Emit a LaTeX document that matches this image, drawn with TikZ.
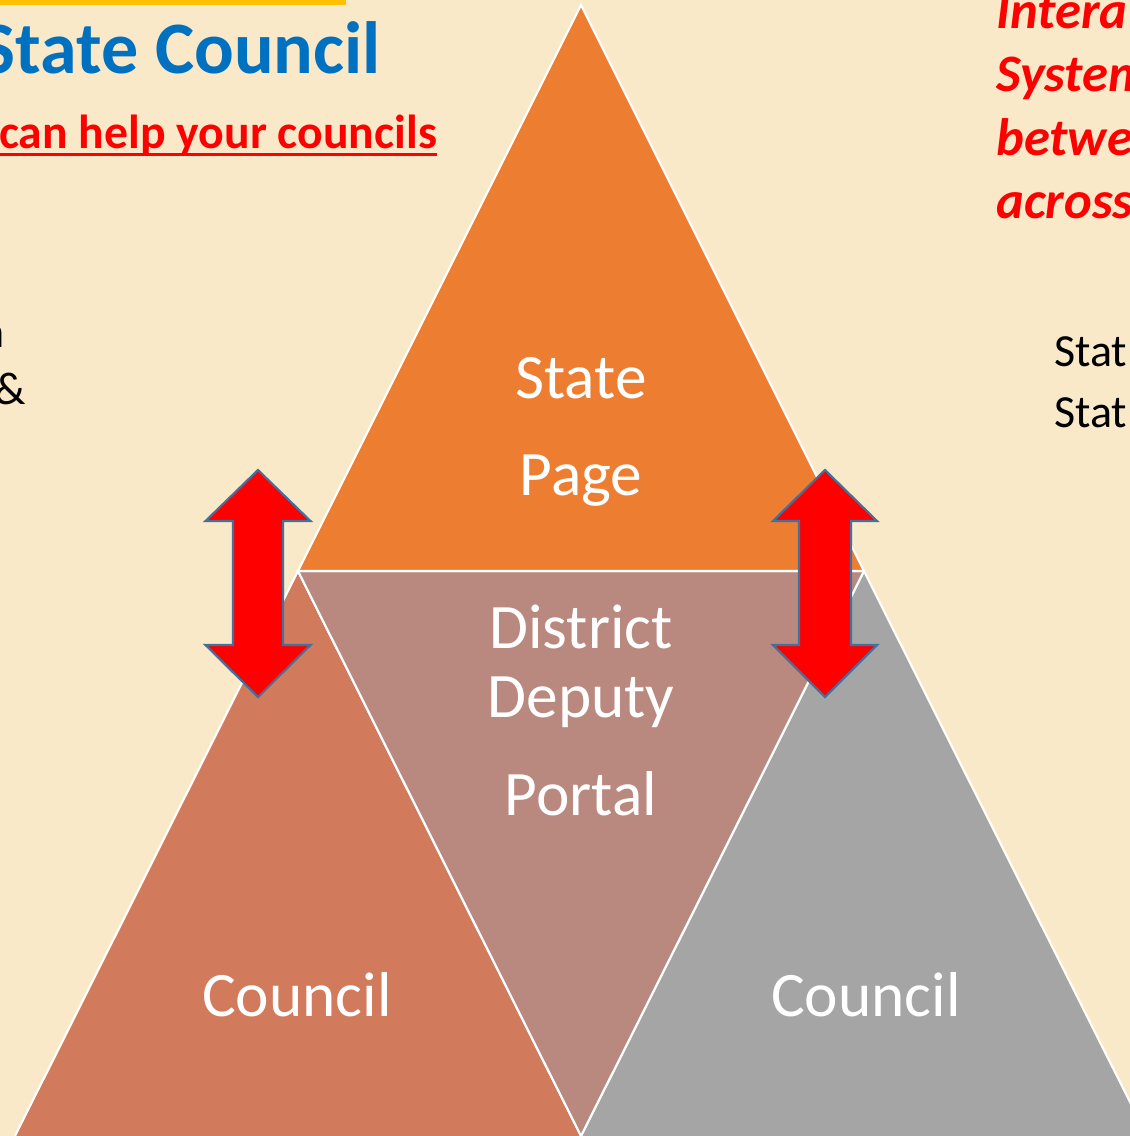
\documentclass[tikz,border=0pt]{standalone}
\usepackage{fontspec}
\setmainfont{Carlito}
\usetikzlibrary{calc}
\definecolor{bgc}{HTML}{F9E9C8}
\definecolor{barc}{HTML}{FFC000}
\definecolor{titleblue}{HTML}{0070C0}
\definecolor{topc}{HTML}{ED7D31}
\definecolor{leftc}{HTML}{D17A5C}
\definecolor{midc}{HTML}{B98980}
\definecolor{rightc}{HTML}{A5A5A5}
\definecolor{arrowedge}{HTML}{41719C}
\definecolor{redtxt}{HTML}{FF0000}
\tikzset{
  edgewhite/.style={draw=white, line width=1.6pt, line join=miter},
  bigarrow/.style={fill=red, draw=arrowedge, line width=1.6pt, line join=miter},
  tritext/.style={text=white, inner sep=0pt, anchor=base, font=\fontsize{47.5}{57}\selectfont},
  redital/.style={text=redtxt, inner sep=0pt, anchor=base west, font=\fontsize{39.5}{47}\selectfont\bfseries\itshape},
  blacktxt/.style={text=black, inner sep=0pt, font=\fontsize{34.5}{41}\selectfont}
}
\begin{document}
\begin{tikzpicture}[x=0.75pt,y=-0.75pt]
\useasboundingbox (0,0) rectangle (1130,1136);
\clip (0,0) rectangle (1130,1136);
\fill[bgc] (0,0) rectangle (1130,1136);
\fill[barc] (0,0) rectangle (346,5);

% triangles
\fill[leftc] (15,1136) -- (298,571) -- (581,1136) -- cycle;
\draw[edgewhite] (15,1136) -- (298,571) -- (581,1136);
\fill[rightc] (581,1136) -- (864,571) -- (1147,1136) -- cycle;
\draw[edgewhite] (581,1136) -- (864,571) -- (1147,1136);
\filldraw[midc, edgewhite] (298,571) -- (864,571) -- (581,1136) -- cycle;
\fill[topc] (581,5) -- (864,571) -- (298,571) -- cycle;
\draw[edgewhite] (581,5) -- (864,571) -- (298,571) -- cycle;

% arrows
\draw[bigarrow] (258,470) -- (310.5,521) -- (283,521) -- (283,645) -- (310.5,645) -- (258,697) -- (205.5,645) -- (233,645) -- (233,521) -- (205.5,521) -- cycle;
\draw[bigarrow] (825,470) -- (877,521) -- (851,521) -- (851,645) -- (877,645) -- (825,697) -- (773,645) -- (799,645) -- (799,521) -- (773,521) -- cycle;

% triangle texts
\node[tritext] (state) at (581,398) {State};
\node[tritext] (page) at (581,495) {Page};
\node[tritext] (district) at (581,648) {District};
\node[tritext] (deputy) at (581,717) {Deputy};
\node[tritext] (portal) at (581,815) {Portal};
\node[tritext] (councilL) at (297,1016) {Council};
\node[tritext] (councilR) at (866,1016) {Council};

% headings
\node[text=titleblue, inner sep=0pt, anchor=base east, font=\fontsize{55.5}{66}\selectfont\bfseries] (title) at (381,73) {State Council};
\node[text=redtxt, inner sep=0pt, anchor=base west, font=\fontsize{35.8}{43}\selectfont\bfseries] (sub) at (-1,148) {can help your councils};
\draw[redtxt, line width=2.3pt] ($(sub.base west)+(0,6.5)$) -- ($(sub.base east)+(0,6.5)$);

% right red italic lines
\node[redital] (r1) at (996,28) {Intera};
\node[redital] (r2) at (996,91) {System};
\node[redital] (r3) at (996,155) {betwe};
\node[redital] (r4) at (996,218) {across};

% black text fragments
\node[blacktxt, anchor=base east] (l1) at (5,347) {n};
\node[blacktxt, anchor=base east] (l2) at (26,404) {\&};
\node[blacktxt, anchor=base west] (s1) at (1054,366) {Stat};
\node[blacktxt, anchor=base west] (s2) at (1054,427) {Stat};
\end{tikzpicture}
\end{document}
